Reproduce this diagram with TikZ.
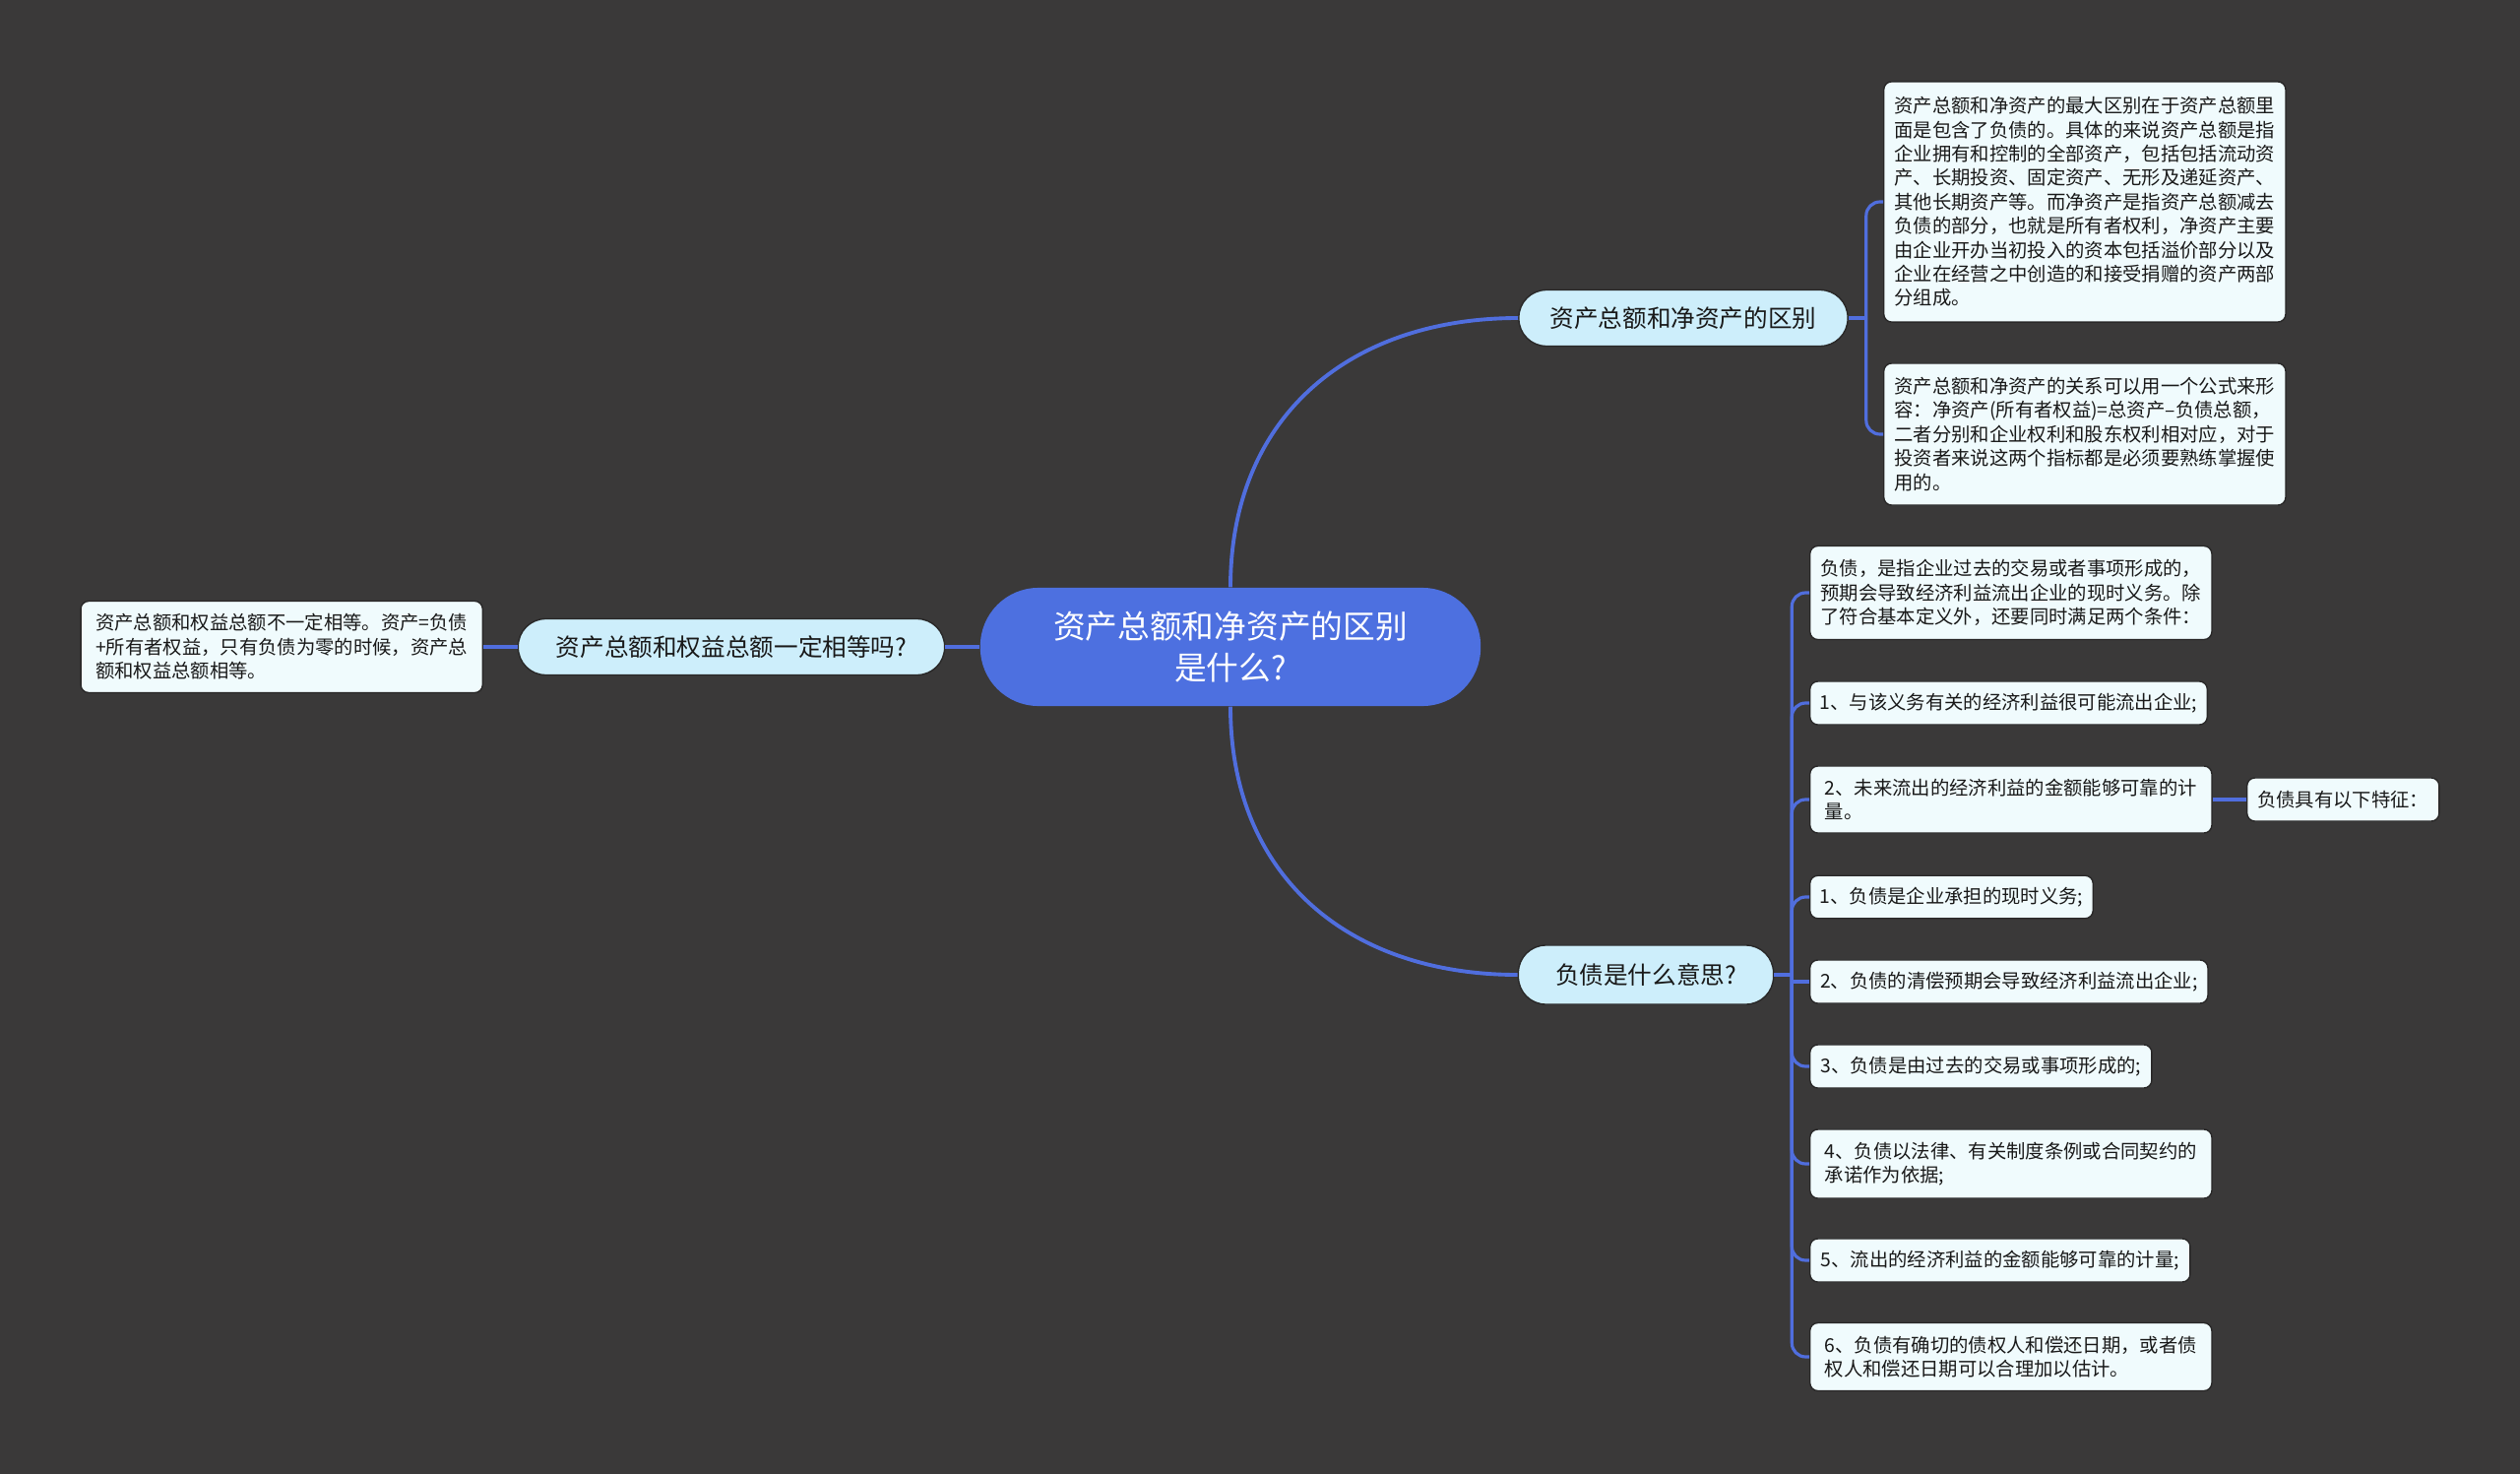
\documentclass[tikz,border=0pt]{standalone}
\usepackage{fontspec}
\setmainfont{Noto Sans CJK SC}
\definecolor{bg}{RGB}{58,57,57}
\definecolor{rootblue}{RGB}{77,112,224}
\definecolor{linkblue}{RGB}{80,110,222}
\definecolor{topicfill}{RGB}{205,238,251}
\definecolor{leaffill}{RGB}{240,251,253}
\begin{document}
\begin{tikzpicture}[x=0.01cm,y=-0.01cm,
  rootbox/.style={fill=rootblue,text=white,rounded corners=0.59cm,minimum width=5.08cm,minimum height=1.2cm,align=center,font=\fontsize{9.3}{12}\selectfont},
  topic/.style={fill=topicfill,draw=bg!70!black,rounded corners=0.28cm,minimum height=0.57cm,text=black!90,font=\fontsize{7}{8.4}\selectfont},
  leaf/.style={fill=leaffill,draw=bg!70!black,rounded corners=0.08cm,align=left,inner xsep=0.1cm,text=black!90,font=\fontsize{5.5}{6.94}\selectfont},
  link/.style={linkblue,line width=1.1pt},
  twig/.style={linkblue,line width=0.9pt,rounded corners=0.14cm}]
  \fill[bg] (0,0) rectangle (2560,1497);
  % centre and main topics
  \node[rootbox] (root) at (1250,657) {资产总额和净资产的区别\\是什么?};
  \node[topic,minimum width=3.34cm] (diff) at (1710,323) {资产总额和净资产的区别};
  \node[topic,minimum width=2.59cm,minimum height=0.6cm] (debt) at (1672,990) {负债是什么意思?};
  \node[topic,minimum width=4.33cm] (equal) at (743,657) {资产总额和权益总额一定相等吗?};
  % leaves of the first topic
  \node[leaf,anchor=west,minimum width=4.08cm,minimum height=2.44cm] (diffa) at (1913,205) {资产总额和净资产的最大区别在于资产总额里\\面是包含了负债的。具体的来说资产总额是指\\企业拥有和控制的全部资产，包括包括流动资\\产、长期投资、固定资产、无形及递延资产、\\其他长期资产等。而净资产是指资产总额减去\\负债的部分，也就是所有者权利，净资产主要\\由企业开办当初投入的资本包括溢价部分以及\\企业在经营之中创造的和接受捐赠的资产两部\\分组成。};
  \node[leaf,anchor=west,minimum width=4.08cm,minimum height=1.44cm] (diffb) at (1913,441) {资产总额和净资产的关系可以用一个公式来形\\容：净资产(所有者权益)=总资产–负债总额，\\二者分别和企业权利和股东权利相对应，对于\\投资者来说这两个指标都是必须要熟练掌握使\\用的。};
  \node[leaf,anchor=east,minimum width=4.08cm,minimum height=0.93cm] (equala) at (491,657) {资产总额和权益总额不一定相等。资产=负债\\+所有者权益，只有负债为零的时候，资产总\\额和权益总额相等。};
  % leaves of the second topic
  \node[leaf,anchor=west,minimum width=4.08cm,minimum height=0.95cm] (c0) at (1838,602) {负债，是指企业过去的交易或者事项形成的，\\预期会导致经济利益流出企业的现时义务。除\\了符合基本定义外，还要同时满足两个条件：};
  \node[leaf,anchor=west,minimum width=4.02cm,minimum height=0.44cm] (c1) at (1838,714) {1、与该义务有关的经济利益很可能流出企业;};
  \node[leaf,anchor=west,minimum width=4.08cm,minimum height=0.68cm] (c2) at (1838,812) {2、未来流出的经济利益的金额能够可靠的计\\量。};
  \node[leaf,anchor=west,minimum width=1.95cm,minimum height=0.44cm] (feat) at (2282,812) {负债具有以下特征：};
  \node[leaf,anchor=west,minimum width=2.84cm,minimum height=0.42cm] (c3) at (1838,911) {1、负债是企业承担的现时义务;};
  \node[leaf,anchor=west,minimum width=4.04cm,minimum height=0.44cm] (c4) at (1838,997) {2、负债的清偿预期会导致经济利益流出企业;};
  \node[leaf,anchor=west,minimum width=3.47cm,minimum height=0.44cm] (c5) at (1838,1083) {3、负债是由过去的交易或事项形成的;};
  \node[leaf,anchor=west,minimum width=4.08cm,minimum height=0.70cm] (c6) at (1838,1182) {4、负债以法律、有关制度条例或合同契约的\\承诺作为依据;};
  \node[leaf,anchor=west,minimum width=3.86cm,minimum height=0.44cm] (c7) at (1838,1280) {5、流出的经济利益的金额能够可靠的计量;};
  \node[leaf,anchor=west,minimum width=4.08cm,minimum height=0.69cm] (c8) at (1838,1378) {6、负债有确切的债权人和偿还日期，或者债\\权人和偿还日期可以合理加以估计。};
  % connectors
  \draw[link] (root.north) to[out=90,in=180,looseness=1.1] (diff.west);
  \draw[link] (root.south) to[out=-90,in=180,looseness=1.1] (debt.west);
  \draw[link] (root.west) -- (equal.east);
  \draw[twig] (equal.west) -- (equala.east);
  \draw[twig] (diff.east) -- ++(18,0) coordinate (j1);
  \draw[twig] (j1) |- (diffa.west);
  \draw[twig] (j1) |- (diffb.west);
  \draw[twig] (debt.east) -- ++(18,0) coordinate (j2);
  \foreach \c in {c0,c1,c2,c3,c5,c6,c7,c8}
    \draw[twig] (j2) |- (\c.west);
  \draw[twig] (j2 |- c4.west) -- (c4.west);
  \draw[twig] (c2.east) -- (feat.west);
\end{tikzpicture}
\end{document}
